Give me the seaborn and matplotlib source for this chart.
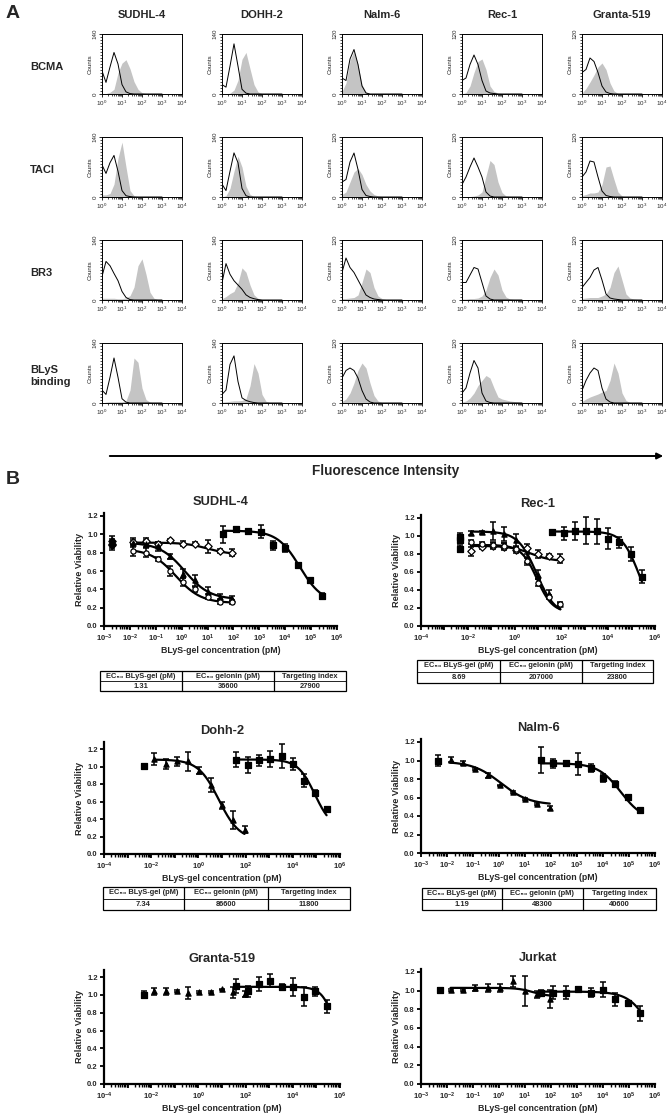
import numpy as np
import matplotlib
matplotlib.use("Agg")
import matplotlib.pyplot as plt
import matplotlib.ticker as mticker
from matplotlib.patches import FancyArrowPatch, Rectangle
import seaborn as sns

W, H = 670, 1115

# ---------------- panel A data (flow histograms) ----------------
cell_lines = ["SUDHL-4", "DOHH-2", "Nalm-6", "Rec-1", "Granta-519"]
receptors = ["BCMA", "TACI", "BR3", "BLyS\nbinding"]
count_max = [140, 140, 120, 120, 120]
# fluorescence channel, log10 units
log_bins = [0.0, 0.2, 0.4, 0.6, 0.8, 1.0, 1.2, 1.4, 1.6, 1.8, 2.0, 2.2, 2.4, 2.6, 2.8, 3.0]

bcma_isotype = [[54, 27, 63, 97, 70, 22, 5, 1],
                [22, 16, 65, 117, 65, 11, 2],
                [32, 27, 70, 89, 59, 16, 2],
                [27, 32, 59, 78, 59, 27, 6, 2, 1],
                [43, 49, 72, 65, 43, 16, 4, 1]]
bcma_stained = [[0, 1, 4, 11, 49, 72, 80, 59, 29, 11, 3, 1],
                [0, 0, 2, 9, 32, 81, 97, 59, 22, 5, 1],
                [5, 22, 67, 86, 59, 19, 4, 1],
                [0, 3, 16, 43, 65, 70, 49, 16, 5, 2, 1],
                [2, 11, 24, 38, 54, 62, 49, 22, 6, 1]]
taci_isotype = [[75, 55, 80, 97, 60, 15, 3, 1],
                [30, 15, 60, 103, 80, 20, 3],
                [30, 35, 70, 88, 55, 15, 3, 1],
                [25, 40, 60, 78, 60, 40, 10, 2],
                [40, 50, 72, 70, 40, 12, 3, 1]]
taci_stained = [[5, 5, 8, 30, 90, 128, 70, 15, 3, 1],
                [0, 3, 20, 60, 95, 70, 25, 6, 1],
                [5, 10, 30, 50, 57, 45, 25, 12, 5, 2, 1],
                [0, 0, 1, 2, 4, 10, 42, 73, 65, 30, 9, 2, 1],
                [3, 5, 8, 8, 10, 25, 60, 62, 35, 10, 2]]
br3_isotype = [[55, 90, 80, 62, 45, 20, 6, 1],
               [40, 85, 60, 45, 35, 25, 12, 6, 3, 1],
               [55, 84, 65, 55, 40, 25, 10, 5, 2, 1],
               [35, 35, 50, 65, 62, 35, 8, 2],
               [25, 35, 45, 60, 65, 40, 12, 4, 2, 1]]
br3_stained = [[4, 4, 4, 4, 3, 3, 5, 10, 30, 80, 96, 60, 18, 4, 1],
               [3, 8, 15, 20, 40, 75, 65, 35, 12, 4, 1],
               [3, 3, 4, 5, 10, 35, 62, 55, 25, 8, 3, 1],
               [2, 2, 3, 3, 4, 8, 20, 45, 62, 50, 20, 6, 2, 1],
               [3, 4, 5, 5, 5, 8, 12, 25, 55, 68, 40, 12, 4, 2, 1]]
blys_isotype = [[30, 20, 60, 105, 60, 10, 2],
                [20, 30, 90, 110, 50, 12, 6, 3, 1],
                [50, 65, 70, 65, 50, 25, 8, 2],
                [20, 30, 60, 85, 70, 20, 4, 1],
                [25, 45, 60, 70, 65, 30, 8, 2]]
blys_stained = [[0, 2, 3, 3, 3, 3, 5, 30, 105, 95, 35, 8, 2],
                [2, 3, 4, 5, 5, 6, 10, 40, 92, 70, 20, 4, 1],
                [3, 8, 20, 40, 65, 80, 70, 40, 15, 4, 1],
                [2, 4, 10, 20, 35, 45, 55, 50, 30, 12, 8, 6, 4, 3, 2, 1],
                [3, 8, 12, 15, 18, 22, 25, 45, 80, 60, 20, 5, 1]]

# ---------------- panel B data (viability) ----------------
blys_conc = [0.0137, 0.041, 0.123, 0.37, 1.11, 3.33, 10, 30, 90]
gel_conc = [41, 123, 370, 1110, 3330, 10000, 30000, 90000, 270000]

sudhl_ctrl_x = 0.0021
sudhl_ctrl = [0.93, 0.90, 0.88]
sudhl_tri = [0.91, 0.90, 0.87, 0.76, 0.57, 0.50, 0.37, 0.32, 0.30]
sudhl_tri_err = [0.05, 0.04, 0.05, 0.03, 0.05, 0.06, 0.06, 0.03, 0.03]
sudhl_circ = [0.82, 0.80, 0.73, 0.60, 0.48, 0.40, 0.32, 0.26, 0.26]
sudhl_circ_err = [0.06, 0.05, 0.02, 0.05, 0.04, 0.03, 0.03, 0.02, 0.02]
sudhl_diam = [0.92, 0.93, 0.89, 0.94, 0.90, 0.90, 0.87, 0.82, 0.80]
sudhl_diam_err = [0.02, 0.03, 0.03, 0.01, 0.03, 0.02, 0.07, 0.02, 0.04]
sudhl_gel = [1.00, 1.06, 1.04, 1.03, 0.88, 0.85, 0.67, 0.50, 0.33]
sudhl_gel_err = [0.09, 0.02, 0.02, 0.07, 0.05, 0.04, 0.02, 0.02, 0.03]

rec_ctrl_x = 0.0047
rec_ctrl = [0.99, 0.96, 0.86]
rec_tri = [1.03, 1.04, 1.05, 1.02, 0.95, 0.75, 0.57, 0.36, 0.25]
rec_tri_err = [0.02, 0.02, 0.10, 0.08, 0.07, 0.05, 0.05, 0.04, 0.02]
rec_circ = [0.93, 0.91, 0.90, 0.89, 0.86, 0.72, 0.48, 0.32, 0.24]
rec_circ_err = [0.02, 0.02, 0.03, 0.03, 0.03, 0.04, 0.04, 0.02, 0.02]
rec_diam = [0.83, 0.88, 0.89, 0.88, 0.84, 0.87, 0.80, 0.78, 0.75]
rec_diam_err = [0.05, 0.03, 0.03, 0.04, 0.03, 0.04, 0.04, 0.02, 0.05]
rec_gel = [1.04, 1.03, 1.05, 1.06, 1.05, 0.97, 0.93, 0.80, 0.55]
rec_gel_err = [0.03, 0.07, 0.10, 0.15, 0.14, 0.12, 0.06, 0.08, 0.07]

dohh_ctrl_x = 0.0048
dohh_ctrl = [1.01]
dohh_tri = [1.09, 1.03, 1.06, 1.06, 0.95, 0.79, 0.56, 0.39, 0.28]
dohh_tri_err = [0.07, 0.06, 0.05, 0.11, 0.04, 0.08, 0.04, 0.10, 0.04]
dohh_gel = [1.08, 1.02, 1.07, 1.09, 1.12, 1.03, 0.84, 0.70, 0.51]
dohh_gel_err = [0.09, 0.09, 0.06, 0.09, 0.14, 0.07, 0.07, 0.03, 0.01]

nalm_ctrl_x = 0.0046
nalm_ctrl = [1.00]
nalm_tri = [1.01, 0.97, 0.91, 0.84, 0.73, 0.66, 0.58, 0.53, 0.49]
nalm_tri_err = [0.03, 0.02, 0.01, 0.03, 0.01, 0.01, 0.01, 0.01, 0.02]
nalm_gel = [1.01, 0.97, 0.97, 0.96, 0.92, 0.81, 0.75, 0.61, 0.46]
nalm_gel_err = [0.14, 0.05, 0.03, 0.12, 0.04, 0.04, 0.03, 0.01, 0.03]

granta_ctrl_x = 0.0049
granta_ctrl = [1.00]
granta_tri = [1.04, 1.04, 1.04, 1.02, 1.03, 1.03, 1.06, 1.03, 1.01]
granta_tri_err = [0.04, 0.04, 0.01, 0.07, 0.01, 0.01, 0.01, 0.06, 0.03]
granta_gel = [1.10, 1.04, 1.12, 1.16, 1.09, 1.09, 0.98, 1.04, 0.87]
granta_gel_err = [0.08, 0.06, 0.08, 0.07, 0.03, 0.10, 0.11, 0.05, 0.07]

jurkat_ctrl_x = 0.0053
jurkat_ctrl = [1.01]
jurkat_tri = [1.01, 1.01, 1.03, 1.03, 1.03, 1.10, 1.00, 0.96, 0.91]
jurkat_tri_err = [0.01, 0.01, 0.03, 0.04, 0.04, 0.06, 0.16, 0.04, 0.10]
jurkat_gel = [0.98, 0.98, 0.98, 1.02, 0.98, 1.01, 0.91, 0.87, 0.76]
jurkat_gel_err = [0.03, 0.07, 0.07, 0.02, 0.05, 0.08, 0.07, 0.01, 0.08]

# fitted 4PL curves: top, bottom, EC50 (pM), hill
sudhl_fits = [(0.91, 0.29, 1.31, 0.9), (0.84, 0.25, 0.6, 0.9), (0.91, 0.78, 10, 1.0), (1.04, 0.25, 36600, 1.0)]
rec_fits = [(1.05, 0.12, 8.69, 1.1), (0.90, 0.15, 9.0, 1.3), (0.89, 0.72, 5, 1.0), (1.05, 0.10, 207000, 1.2)]
dohh_fits = [(1.08, 0.16, 7.34, 1.0), (1.08, 0.28, 86600, 1.2)]
nalm_fits = [(0.99, 0.52, 1.19, 0.8), (0.97, 0.35, 48300, 1.0)]
granta_fits = [None, (1.09, 0.0, 800000, 1.5)]
jurkat_fits = [(1.03, 0.94, 20, 1.5), (0.99, 0.0, 1000000, 1.0)]

table_header = ["EC\u2085\u2080 BLyS-gel (pM)", "EC\u2085\u2080 gelonin (pM)", "Targeting index"]
sudhl_table = ["1.31", "36600", "27900"]
rec_table = ["8.69", "207000", "23800"]
dohh_table = ["7.34", "86600", "11800"]
nalm_table = ["1.19", "48300", "40600"]

sns.set_theme(style="ticks")
plt.rcParams["font.family"] = ["Liberation Sans", "DejaVu Sans"]
plt.rcParams["mathtext.fontset"] = "custom"
plt.rcParams["mathtext.rm"] = "Liberation Sans"
plt.rcParams["mathtext.bf"] = "Liberation Sans:bold"

fig = plt.figure(figsize=(W / 100, H / 100), dpi=100)
fig.patch.set_facecolor("white")


def px_axes(x0, y0, x1, y1):
    return fig.add_axes([x0 / W, 1 - y1 / H, (x1 - x0) / W, (y1 - y0) / H])


def pad(vals):
    return np.array(list(vals) + [0] * (len(log_bins) - len(vals)), dtype=float)


def draw_hist(ax, iso, stained, ymax):
    x = np.array(log_bins)
    ax.fill_between(x, pad(stained), color="#c4c4c4", lw=0)
    sns.lineplot(x=np.r_[0.0, x], y=np.r_[0.0, pad(iso)], color="black", lw=0.7,
                 sort=False, estimator=None, ax=ax)
    ax.set_xlim(0, 4)
    ax.set_ylim(0, ymax)
    for sp in ax.spines.values():
        sp.set_linewidth(0.7)
        sp.set_color("black")
    ax.set_xticks([0, 1, 2, 3, 4])
    ax.set_xticklabels([rf"$10^{e}$" for e in range(5)], fontsize=4.5)
    ax.xaxis.set_minor_locator(mticker.FixedLocator(
        [d + np.log10(k) for d in range(4) for k in range(2, 10)]))
    ax.set_yticks([0, ymax])
    ax.set_yticklabels(["0", str(ymax)], fontsize=4.5, rotation=90, va="center")
    ax.yaxis.set_minor_locator(mticker.MultipleLocator(ymax / 20))
    ax.tick_params(which="major", length=2.2, width=0.6, pad=1, color="black")
    ax.tick_params(which="minor", length=1.2, width=0.5, color="black")
    ax.set_ylabel("Counts", fontsize=4.5, labelpad=0)
    ax.set_xlabel("")


col_left = [102, 222, 342, 462, 582]
row_top = [34, 137, 240, 343]
row_data = [(bcma_isotype, bcma_stained), (taci_isotype, taci_stained),
            (br3_isotype, br3_stained), (blys_isotype, blys_stained)]

for r, (iso_rows, st_rows) in enumerate(row_data):
    for c in range(5):
        ax = px_axes(col_left[c], row_top[r], col_left[c] + 80, row_top[r] + 60)
        draw_hist(ax, iso_rows[c], st_rows[c], count_max[c])
    fig.text(30 / W, 1 - (row_top[r] + 33) / H, receptors[r], fontsize=8, fontweight="bold",
             ha="left", va="center", linespacing=1.2)

for c, name in enumerate(cell_lines):
    fig.text((col_left[c] + 40) / W, 1 - 15 / H, name, fontsize=8, fontweight="bold",
             ha="center", va="center")

fig.text(6 / W, 1 - 13 / H, "A", fontsize=14, fontweight="bold", ha="left", va="center")
arrow = FancyArrowPatch((107 / W, 1 - 456 / H), (666 / W, 1 - 456 / H), transform=fig.transFigure,
                        arrowstyle="-|>", mutation_scale=9, lw=1.4, color="black")
fig.patches.append(arrow)
fig.text(386 / W, 1 - 471 / H, "Fluorescence Intensity", fontsize=9.8, fontweight="bold",
         ha="center", va="center")
fig.text(6 / W, 1 - 480 / H, "B", fontsize=14, fontweight="bold", ha="left", va="center")


# ---------------- panel B ----------------
def logistic(x, top, bottom, ec50, hill):
    return bottom + (top - bottom) / (1 + (x / ec50) ** hill)


def draw_dose(ax, conc, mean, err, marker, filled, fit=None, size=14):
    ax.errorbar(conc, mean, yerr=err, fmt="none", ecolor="black", elinewidth=1.1,
                capsize=2.3, capthick=1.1, zorder=2)
    if fit is not None:
        xs = np.logspace(np.log10(conc[0]), np.log10(conc[-1]), 200)
        sns.lineplot(x=xs, y=logistic(xs, *fit), color="black", lw=1.6, ax=ax, zorder=2)
    sns.scatterplot(x=conc, y=mean, marker=marker, s=size, color="black" if filled else "white",
                    edgecolor="black", linewidth=0.9, ax=ax, zorder=3)


def style_dose(ax, xmin_exp, step, ytop, title):
    ax.set_xscale("log")
    ax.set_xlim(10.0 ** xmin_exp, 1e6)
    ax.set_ylim(0, ytop)
    sns.despine(ax=ax)
    for side in ["left", "bottom"]:
        ax.spines[side].set_linewidth(1.6)
        ax.spines[side].set_color("black")
    exps = list(range(xmin_exp, 7))
    ax.xaxis.set_major_locator(mticker.FixedLocator([10.0 ** e for e in exps]))
    ax.xaxis.set_major_formatter(mticker.FixedFormatter(
        [rf"$\mathbf{{10^{{{e}}}}}$" if (e - xmin_exp) % step == 0 else "" for e in exps]))
    ax.xaxis.set_minor_locator(mticker.LogLocator(base=10, subs=np.arange(2, 10), numticks=40))
    ax.xaxis.set_minor_formatter(mticker.NullFormatter())
    ax.set_yticks(np.arange(0, 1.21, 0.2))
    ax.yaxis.set_major_formatter(mticker.FormatStrFormatter("%.1f"))
    ax.tick_params(which="major", length=3, width=1.3, pad=1.5, labelsize=5.5, color="black")
    ax.tick_params(which="minor", length=1.8, width=1.0, color="black")
    for lab in ax.get_yticklabels():
        lab.set_fontweight("bold")
    ax.set_xlabel("BLyS-gel concentration (pM)", fontsize=6.3, fontweight="bold", labelpad=2)
    ax.set_ylabel("Relative Viability", fontsize=6.6, fontweight="bold", labelpad=2)
    ax.set_title(title, fontsize=9.3, fontweight="bold", pad=6)
    ax.set_facecolor("white")


def draw_table(x_edges, y0, y1, values):
    tab = px_axes(x_edges[0], y0, x_edges[-1], y1)
    tab.set_xlim(x_edges[0], x_edges[-1])
    tab.set_ylim(y1, y0)
    tab.axis("off")
    tab.add_patch(Rectangle((x_edges[0], y0), x_edges[-1] - x_edges[0], y1 - y0, fill=False,
                            lw=0.9, ec="black", clip_on=False))
    ym = (y0 + y1) / 2
    tab.plot([x_edges[0], x_edges[-1]], [ym, ym], color="black", lw=0.6, clip_on=False)
    for xe in x_edges[1:-1]:
        tab.plot([xe, xe], [y0, y1], color="black", lw=0.9, clip_on=False)
    for i in range(3):
        xc = (x_edges[i] + x_edges[i + 1]) / 2
        tab.text(xc, (y0 + ym) / 2, table_header[i], fontsize=5.4, fontweight="bold",
                 ha="center", va="center")
        tab.text(xc, (ym + y1) / 2, values[i], fontsize=5.4, fontweight="bold",
                 ha="center", va="center")


def dose_axes(x0, x1, y_zero, y_12, ytop):
    per = (y_zero - y_12) / 1.2
    return px_axes(x0, y_zero - per * ytop, x1, y_zero)


# SUDHL-4
ax = dose_axes(104, 337, 626, 516, 1.23)
style_dose(ax, -3, 1, 1.23, "SUDHL-4")
draw_dose(ax, [sudhl_ctrl_x] * 3, sudhl_ctrl, [0.05, 0.05, 0.05], "D", True)
draw_dose(ax, blys_conc, sudhl_diam, sudhl_diam_err, "D", False, sudhl_fits[2])
draw_dose(ax, blys_conc, sudhl_tri, sudhl_tri_err, "^", True, sudhl_fits[0])
draw_dose(ax, blys_conc, sudhl_circ, sudhl_circ_err, "o", False, sudhl_fits[1])
draw_dose(ax, gel_conc, sudhl_gel, sudhl_gel_err, "s", True, sudhl_fits[3])
draw_table([100, 182, 274, 346], 671, 691, sudhl_table)

# Rec-1
ax = dose_axes(421, 655, 626, 518, 1.23)
style_dose(ax, -4, 2, 1.23, "Rec-1")
draw_dose(ax, [rec_ctrl_x] * 3, rec_ctrl, [0.04, 0.03, 0.04], "s", True)
draw_dose(ax, blys_conc, rec_diam, rec_diam_err, "D", False, rec_fits[2])
draw_dose(ax, blys_conc, rec_tri, rec_tri_err, "^", True, rec_fits[0])
draw_dose(ax, blys_conc, rec_circ, rec_circ_err, "o", False, rec_fits[1])
draw_dose(ax, gel_conc, rec_gel, rec_gel_err, "s", True, rec_fits[3])
draw_table([417, 500, 582, 653], 660, 683, rec_table)

# Dohh-2
ax = dose_axes(104, 340, 854, 749, 1.28)
style_dose(ax, -4, 2, 1.28, "Dohh-2")
draw_dose(ax, [dohh_ctrl_x], dohh_ctrl, [0.01], "s", True)
draw_dose(ax, blys_conc, dohh_tri, dohh_tri_err, "^", True, dohh_fits[0])
draw_dose(ax, gel_conc, dohh_gel, dohh_gel_err, "s", True, dohh_fits[1])
draw_table([103, 184, 268, 350], 887, 910, dohh_table)

# Nalm-6
ax = dose_axes(421, 655, 853, 742, 1.23)
style_dose(ax, -3, 1, 1.23, "Nalm-6")
draw_dose(ax, [nalm_ctrl_x], nalm_ctrl, [0.06], "s", True)
draw_dose(ax, blys_conc, nalm_tri, nalm_tri_err, "^", True, nalm_fits[0])
draw_dose(ax, gel_conc, nalm_gel, nalm_gel_err, "s", True, nalm_fits[1])
draw_table([422, 502, 583, 656], 888, 910, nalm_table)

# Granta-519
ax = dose_axes(104, 340, 1084, 977, 1.28)
style_dose(ax, -4, 2, 1.28, "Granta-519")
draw_dose(ax, [granta_ctrl_x], granta_ctrl, [0.04], "s", True)
draw_dose(ax, blys_conc, granta_tri, granta_tri_err, "^", True, granta_fits[0])
draw_dose(ax, gel_conc, granta_gel, granta_gel_err, "s", True, granta_fits[1])

# Jurkat
ax = dose_axes(421, 655, 1084, 972, 1.23)
style_dose(ax, -3, 1, 1.23, "Jurkat")
draw_dose(ax, [jurkat_ctrl_x], jurkat_ctrl, [0.02], "s", True)
draw_dose(ax, blys_conc, jurkat_tri, jurkat_tri_err, "^", True, jurkat_fits[0])
draw_dose(ax, gel_conc, jurkat_gel, jurkat_gel_err, "s", True, jurkat_fits[1])

fig.savefig("out.png", dpi=100, facecolor="white")
